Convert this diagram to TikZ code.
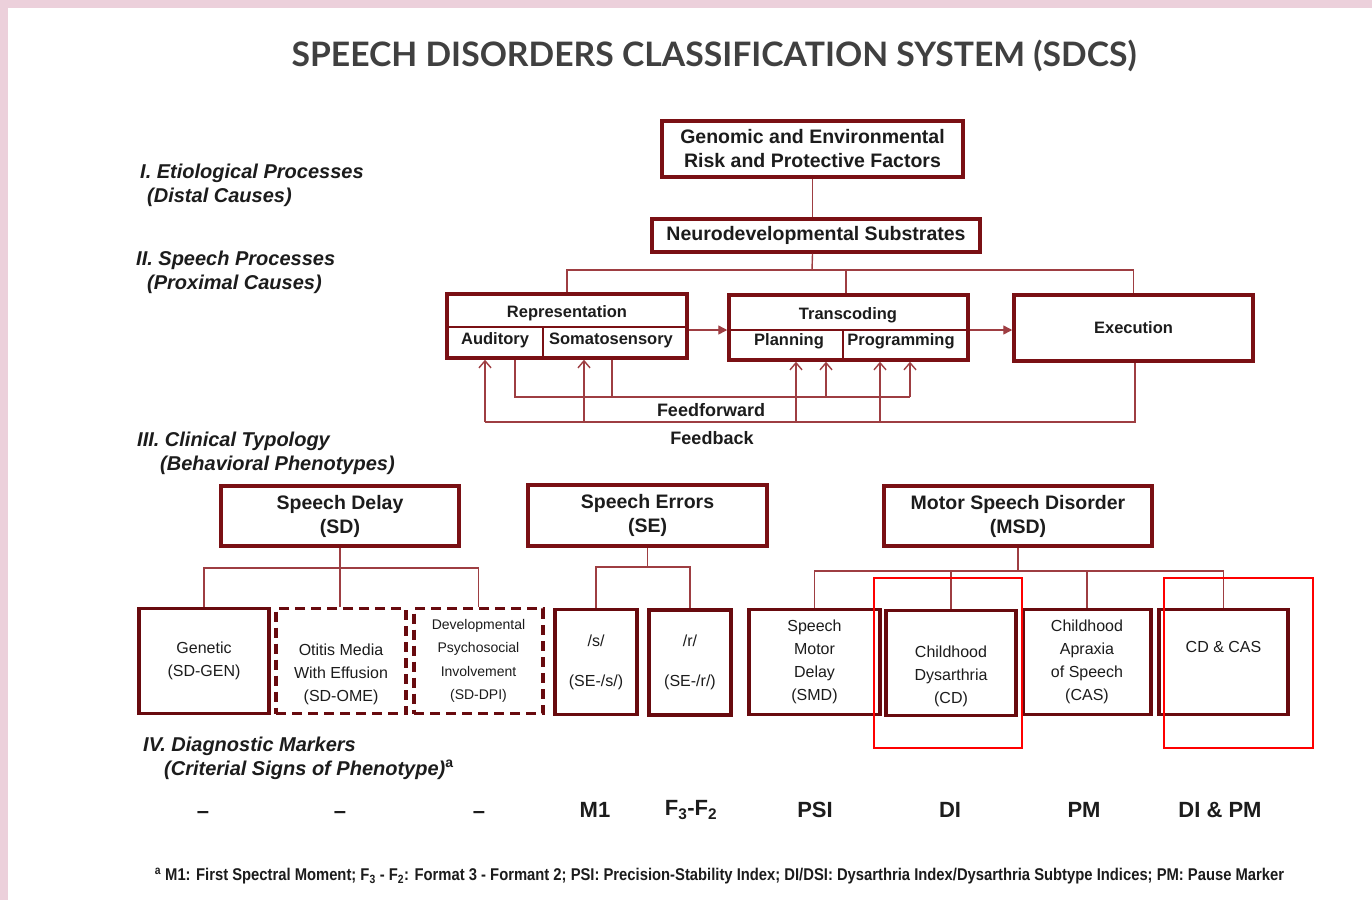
\documentclass[tikz,border=0pt]{standalone}
\usepackage{fontspec}
\setmainfont{Liberation Sans}
\newfontfamily\titlefont{Lato}
\newfontfamily\notefont[FakeStretch=0.87]{Liberation Sans}
\usetikzlibrary{arrows.meta}

\definecolor{framepink}{RGB}{236,208,219}
\definecolor{boxred}{RGB}{122,16,20}
\definecolor{leafred}{RGB}{104,10,14}
\definecolor{linered}{RGB}{158,62,66}
\definecolor{inkgray}{RGB}{64,64,64}
\definecolor{ink}{RGB}{28,28,28}

\newcommand\fsTitle{\fontsize{33.7}{40}\selectfont}
\newcommand\fsBox{\fontsize{19.5}{24}\selectfont}
\newcommand\fsSub{\fontsize{16.5}{20}\selectfont}
\newcommand\fsLevel{\fontsize{20}{24}\selectfont}
\newcommand\fsLeaf{\fontsize{16}{23}\selectfont}
\newcommand\fsSmall{\fontsize{14}{23.5}\selectfont}
\newcommand\fsMark{\fontsize{22}{26}\selectfont}
\newcommand\fsNote{\fontsize{17}{20}\selectfont}

\tikzset{
  box/.style={draw=boxred, line width=3.5pt, fill=white, inner sep=0pt,
    align=center, text=ink},
  leaf/.style={box, draw=leafred, minimum height=105, font=\fsLeaf},
  dleaf/.style={leaf, dash pattern=on 10pt off 6pt},
  conn/.style={draw=linered, line width=1.4pt},
  uparr/.style={conn, -{Straight Barb[length=7pt,width=12pt]}},
  fwdarr/.style={conn, -{Triangle[length=9pt,width=9pt]}},
  txt/.style={inner sep=0pt, text=ink, align=center},
  level/.style={inner sep=0pt, anchor=west, text=ink, font=\fsLevel\bfseries\itshape},
  marker/.style={inner sep=0pt, text=ink, font=\fsMark\bfseries},
  flag/.style={draw=red, line width=1.5pt}
}

\begin{document}
\begin{tikzpicture}[x=1pt,y=-1pt]
\useasboundingbox (0,0) rectangle (1372,900);
\fill[white] (0,0) rectangle (1372,900);
% page frame
\fill[framepink] (0,0) rectangle (1372,8);
\fill[framepink] (0,0) rectangle (8,900);

% title
\node[inner sep=0pt, text=inkgray, font=\titlefont\fsTitle\bfseries] (title) at (714,56)
  {SPEECH DISORDERS CLASSIFICATION SYSTEM (SDCS)};

% level headings
\node[level] (l1a) at (140,173) {I. Etiological Processes};
\node[level] (l1b) at (147,197) {(Distal Causes)};
\node[level] (l2a) at (136,260) {II. Speech Processes};
\node[level] (l2b) at (147,284) {(Proximal Causes)};
\node[level] (l3a) at (137,441) {III. Clinical Typology};
\node[level] (l3b) at (160,465) {(Behavioral Phenotypes)};
\node[level] (l4a) at (143,746) {IV. Diagnostic Markers};
\node[level] (l4b) at (164,770) {(Criterial Signs of Phenotype)\textsuperscript{\upshape a}};

% causes
\node[box, minimum width=301, minimum height=56, font=\fsBox\bfseries] (genomic) at (812.5,149)
  {Genomic and Environmental\\Risk and Protective Factors};
\node[box, minimum width=328, minimum height=33, font=\fsBox\bfseries] (neuro) at (816,235.5)
  {Neurodevelopmental Substrates};

% speech processes
\node[box, minimum width=240, minimum height=64] (rep) at (567,326) {};
\node[box, minimum width=239, minimum height=65] (trans) at (848.5,327.5) {};
\node[box, minimum width=239, minimum height=66, font=\fsSub\bfseries] (exe) at (1133.5,328) {Execution};

\coordinate (repdiv) at (543,327);
\coordinate (trdiv) at (843,330);
\draw[draw=boxred, line width=2.2pt] (rep.west |- repdiv) -- (rep.east |- repdiv);
\draw[draw=boxred, line width=2.2pt] (repdiv) -- (repdiv |- rep.south);
\draw[draw=boxred, line width=2.2pt] (trans.west |- trdiv) -- (trans.east |- trdiv);
\draw[draw=boxred, line width=2.2pt] (trdiv) -- (trdiv |- trans.south);

\node[txt, font=\fsSub\bfseries] (reptxt) at (567,313) {Representation};
\node[txt, font=\fsSub\bfseries] (aud) at (495,340) {Auditory};
\node[txt, font=\fsSub\bfseries] (soma) at (611,340) {Somatosensory};
\node[txt, font=\fsSub\bfseries] (trtxt) at (848,315) {Transcoding};
\node[txt, font=\fsSub\bfseries] (plan) at (789,341) {Planning};
\node[txt, font=\fsSub\bfseries] (prog) at (901,341) {Programming};

% tree from the causes
\coordinate (bus1) at (812,270);
\draw[conn] (genomic.south) -- (genomic.south |- neuro.north);
\draw[conn] (genomic.south |- neuro.south) -- (bus1);
\draw[conn] (rep.north) |- (bus1) -| (exe.north);
\draw[conn] (846,0 |- trans.north) -- (846,0 |- bus1);

% forward chain
\coordinate (chain) at (0,330);
\draw[fwdarr] (rep.east |- chain) -- (trans.west |- chain);
\draw[fwdarr] (trans.east |- chain) -- (exe.west |- chain);

% feedforward loop
\coordinate (ffa) at (515,397);
\coordinate (ffb) at (612,397);
\coordinate (ffc) at (826,397);
\coordinate (ffd) at (910,397);
\draw[conn] (rep.south -| ffa) -- (ffa) -- (ffd);
\draw[conn] (rep.south -| ffb) -- (ffb);
\draw[uparr] (ffc) -- (trans.south -| ffc);
\draw[uparr] (ffd) -- (trans.south -| ffd);

% feedback loop
\coordinate (fba) at (485,422);
\coordinate (fbb) at (584,422);
\coordinate (fbc) at (796,422);
\coordinate (fbd) at (880,422);
\coordinate (fbe) at (1135,422);
\draw[conn] (exe.south -| fbe) -- (fbe) -- (fba);
\draw[uparr] (fba) -- (rep.south -| fba);
\draw[uparr] (fbb) -- (rep.south -| fbb);
\draw[uparr] (fbc) -- (trans.south -| fbc);
\draw[uparr] (fbd) -- (trans.south -| fbd);

\node[txt, font=\fontsize{18}{22}\selectfont\bfseries] (fflab) at (711,410) {Feedforward};
\node[txt, font=\fontsize{18}{22}\selectfont\bfseries] (fblab) at (712,438) {Feedback};

% clinical typology
\node[box, minimum width=238, minimum height=60, font=\fsBox\bfseries] (sd) at (340,516) {Speech Delay\\(SD)};
\node[box, minimum width=239, minimum height=61, font=\fsBox\bfseries] (se) at (647.5,515.5) {Speech Errors\\(SE)};
\node[box, minimum width=268, minimum height=60, font=\fsBox\bfseries] (msd) at (1018,516) {Motor Speech Disorder\\(MSD)};

% subtypes
\node[leaf, minimum width=130] (gen) at (204,661) {Genetic\\(SD-GEN)};
\node[dleaf, minimum width=130] (ome) at (341,661) {\strut\\Otitis Media\\With Effusion\\(SD-OME)};
\node[dleaf, minimum width=129, font=\fsSmall] (dpi) at (478.5,661) {Developmental\\Psychosocial\\Involvement\\(SD-DPI)};
\node[leaf, minimum width=82] (ss) at (596,662) {/s/\\[17pt](SE-/s/)};
\node[leaf, minimum width=82] (rr) at (690,662.5) {/r/\\[17pt](SE-/r/)};
\node[leaf, minimum width=131] (smd) at (814.5,662) {Speech\\Motor\\Delay\\(SMD)};
\node[leaf, minimum width=130] (cd) at (951,663) {\strut\\Childhood\\Dysarthria\\(CD)};
\node[leaf, minimum width=128] (cas) at (1087,662) {Childhood\\Apraxia\\of Speech\\(CAS)};
\node[leaf, minimum width=129] (cdcas) at (1223.5,662) {CD \& CAS\\\strut};

% tree from the typology boxes
\coordinate (bus2) at (340,568);
\coordinate (bus3) at (647,567);
\coordinate (bus4) at (1018,571);
\draw[conn] (sd.south) -- (sd.south |- bus2);
\draw[conn] (gen.north) |- (bus2) -| (dpi.north);
\draw[conn] (340,0 |- ome.north) -- (bus2);
\draw[conn] (se.south) -- (se.south |- bus3);
\draw[conn] (ss.north) |- (bus3) -| (rr.north);
\draw[conn] (msd.south) -- (msd.south |- bus4);
\draw[conn] (smd.north) |- (bus4) -| (cdcas.north);
\draw[conn] (cd.north) -- (cd.north |- bus4);
\draw[conn] (cas.north) -- (cas.north |- bus4);

% highlight frames
\draw[flag] (874,578) rectangle (1022,748);
\draw[flag] (1164,578) rectangle (1313,748);

% diagnostic markers
\node[marker] (m1) at (203,815) {--};
\node[marker] (m2) at (340,815) {--};
\node[marker] (m3) at (479,815) {--};
\node[marker] (m4) at (595,810) {M1};
\node[marker] (m5) at (691,810) {F\textsubscript{3}-F\textsubscript{2}};
\node[marker] (m6) at (815,810) {PSI};
\node[marker] (m7) at (950,810) {DI};
\node[marker] (m8) at (1084,810) {PM};
\node[marker] (m9) at (1220,810) {DI \& PM};

% footnote
\node[txt, font=\notefont\fsNote\bfseries] (note) at (719.5,876)
  {\textsuperscript{a} M1: First Spectral Moment; F\textsubscript{3} - F\textsubscript{2}: Format 3 - Formant 2; PSI: Precision-Stability Index; DI/DSI: Dysarthria Index/Dysarthria Subtype Indices; PM: Pause Marker};
\end{tikzpicture}
\end{document}
